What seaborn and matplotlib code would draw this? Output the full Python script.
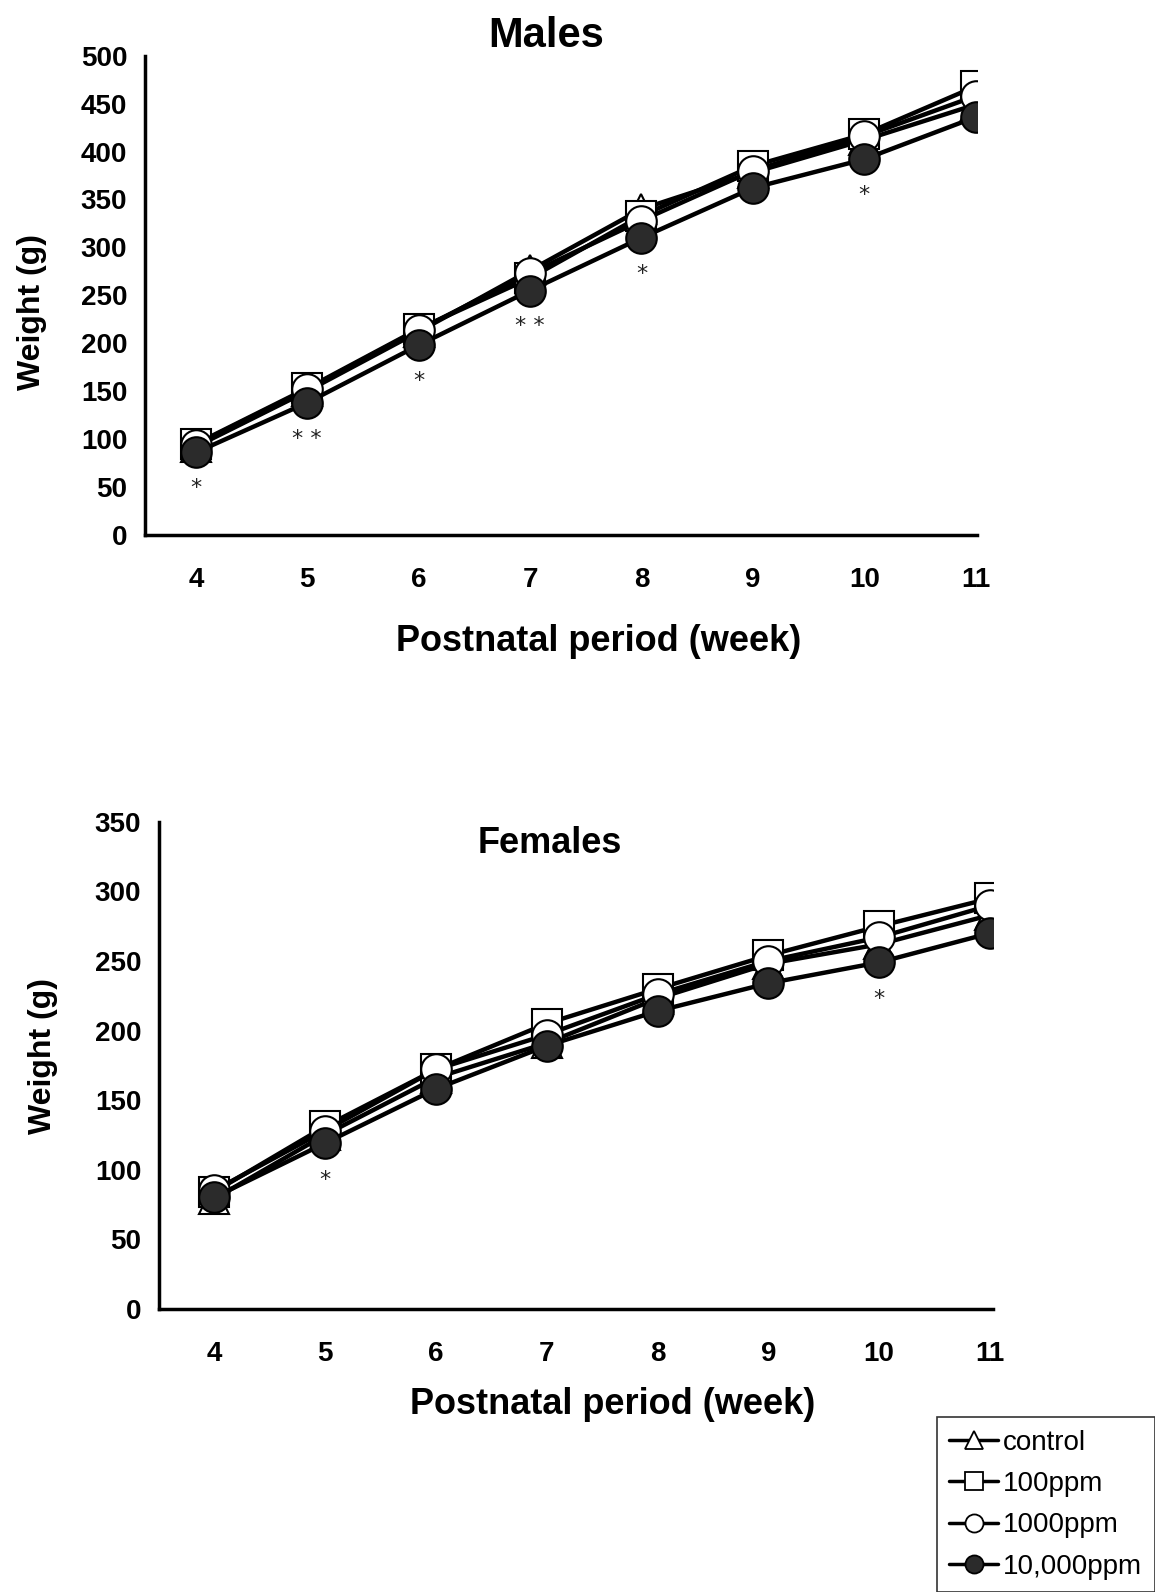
import matplotlib
matplotlib.use("Agg")
import matplotlib.pyplot as plt
from matplotlib.lines import Line2D
import seaborn as sns
import pandas as pd

weeks = [4, 5, 6, 7, 8, 9, 10, 11]
groups = ["control", "100ppm", "1000ppm", "10,000ppm"]

male_control = [92, 150, 212, 276, 340, 378, 412, 449]
male_100 = [95, 153, 215, 268, 333, 385, 418, 468]
male_1000 = [94, 152, 214, 273, 328, 380, 416, 458]
male_10000 = [86, 138, 198, 255, 310, 362, 392, 436]
male_sig = ["*", "**", "*", "**", "*", "", "*", ""]

female_control = [79, 125, 166, 191, 223, 248, 262, 283]
female_100 = [84, 131, 172, 205, 230, 254, 275, 295]
female_1000 = [85, 128, 172, 197, 226, 250, 267, 290]
female_10000 = [80, 119, 158, 189, 214, 234, 249, 270]
female_sig = ["", "*", "", "", "", "", "*", ""]

male_yticks = [0, 50, 100, 150, 200, 250, 300, 350, 400, 450, 500]
female_yticks = [0, 50, 100, 150, 200, 250, 300, 350]

sns.set_style("white")
plt.rcParams["font.family"] = ["Liberation Sans", "DejaVu Sans"]
plt.rcParams["text.color"] = "black"
plt.rcParams["axes.labelcolor"] = "black"
plt.rcParams["xtick.color"] = "black"
plt.rcParams["ytick.color"] = "black"

styles = {
    "control": dict(marker="^", mfc="white"),
    "100ppm": dict(marker="s", mfc="white"),
    "1000ppm": dict(marker="o", mfc="white"),
    "10,000ppm": dict(marker="o", mfc="#2b2b2b"),
}

fig = plt.figure(figsize=(11.55, 15.92), dpi=100)
ax1 = fig.add_axes([0.1257, 0.664, 0.720, 0.301])
ax2 = fig.add_axes([0.138, 0.178, 0.722, 0.3057])


def make_df(vals):
    rows = []
    for g, v in zip(groups, vals):
        for w, y in zip(weeks, v):
            rows.append({"week": w, "weight": y, "group": g})
    return pd.DataFrame(rows)


def draw(ax, vals, sig, yticks, ylim, xlim, xlab_xy, ylab_xy):
    df = make_df(vals)
    for g in groups:
        sub = df[df["group"] == g]
        st = styles[g]
        sns.lineplot(data=sub, x="week", y="weight", ax=ax, color="black",
                     lw=3.2, marker=st["marker"], markersize=22,
                     markerfacecolor=st["mfc"], markeredgecolor="black",
                     markeredgewidth=1.5, legend=False)
    low = vals[-1]
    for w, y, s in zip(weeks, low, sig):
        if s:
            ax.text(w, y - ylim[1] * 0.075, " ".join(s), ha="center", va="center",
                    fontsize=16, family="DejaVu Sans", color="#222222")
    ax.set_xlim(*xlim)
    ax.set_ylim(*ylim)
    ax.set_xticks(weeks)
    ax.set_yticks(yticks)
    ax.set_xticklabels([str(w) for w in weeks], fontsize=20, fontweight="bold")
    ax.set_yticklabels([str(t) for t in yticks], fontsize=20, fontweight="bold")
    ax.tick_params(axis="both", direction="inout", length=6, width=2, color="black")
    ax.tick_params(axis="x", pad=20)
    ax.tick_params(axis="y", pad=10)
    for sp in ["top", "right"]:
        ax.spines[sp].set_visible(False)
    for sp in ["left", "bottom"]:
        ax.spines[sp].set_linewidth(2.5)
        ax.spines[sp].set_color("black")
    ax.set_xlabel("Postnatal period (week)", fontsize=26, fontweight="bold")
    ax.xaxis.set_label_coords(*xlab_xy)
    ax.set_ylabel("Weight (g)", fontsize=23, fontweight="bold")
    ax.yaxis.set_label_coords(*ylab_xy)


draw(ax1, [male_control, male_100, male_1000, male_10000], male_sig,
     male_yticks, (0, 500), (3.545, 11.01), (0.545, -0.185), (-0.118, 0.466))
draw(ax2, [female_control, female_100, female_1000, female_10000], female_sig,
     female_yticks, (0, 350), (3.505, 11.03), (0.543, -0.162), (-0.121, 0.52))

ax1.set_title("Males", fontsize=30, fontweight="bold", pad=6, x=0.482)
ax2.text(0.468, 0.955, "Females", transform=ax2.transAxes, ha="center", va="center",
         fontsize=26, fontweight="bold")

handles = [Line2D([], [], color="black", lw=2.5, marker=styles[g]["marker"],
                  markersize=13, markerfacecolor=styles[g]["mfc"],
                  markeredgecolor="black", markeredgewidth=1.3) for g in groups]
leg = fig.legend(handles, groups, loc="lower right", bbox_to_anchor=(1.0, 0.0),
                 frameon=True, fancybox=False, edgecolor="black", fontsize=20,
                 handlelength=1.75, handletextpad=0.2, borderpad=0.45,
                 labelspacing=0.55, borderaxespad=0.0)
leg.get_frame().set_linewidth(1.2)

fig.savefig("out.png", dpi=100, facecolor="white")
